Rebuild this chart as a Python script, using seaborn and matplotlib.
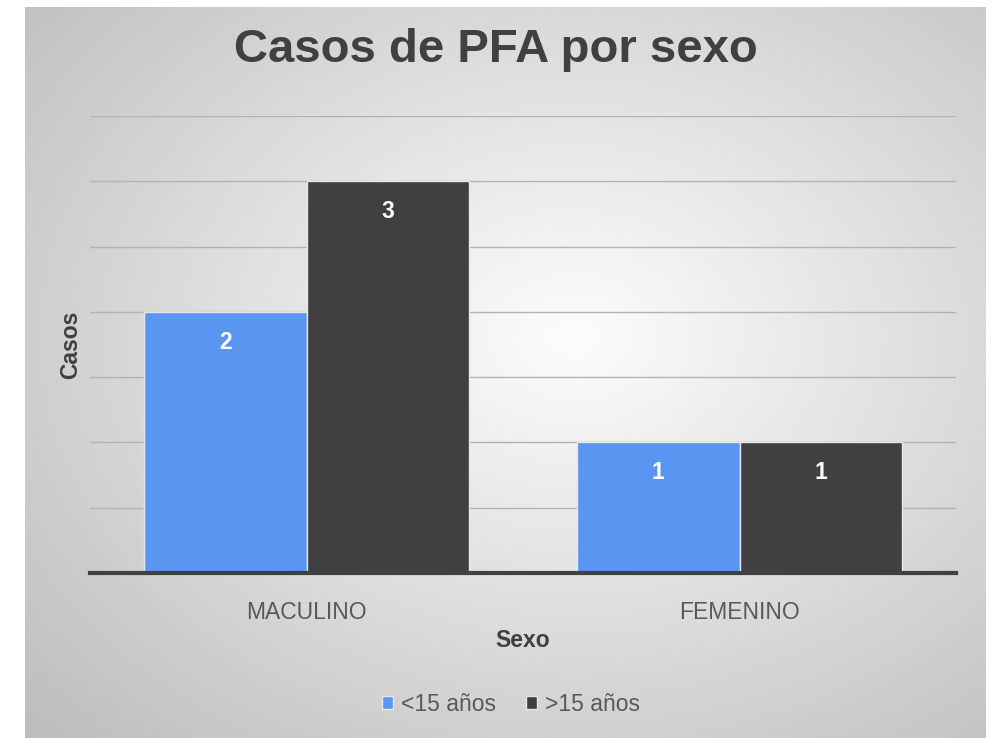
"""
Casos de PFA por sexo - grouped bar chart.
"""

import numpy as np
import pandas as pd
import matplotlib
matplotlib.use("Agg")
import matplotlib.pyplot as plt
import seaborn as sns

# ---- data ----
sexo = ["MACULINO", "FEMENINO"]
grupos = ["<15 años", ">15 años"]
casos_menores = [2, 1]
casos_mayores = [3, 1]

df = pd.DataFrame({
    "Sexo": sexo * 2,
    "Edad": [grupos[0]] * len(sexo) + [grupos[1]] * len(sexo),
    "Casos": casos_menores + casos_mayores,
})

sns.set_theme(style="white")
plt.rcParams["font.family"] = ["Liberation Sans", "DejaVu Sans"]

TEXT = "#404040"
colors = {"<15 años": "#5b95f2", ">15 años": "#404040"}

fig = plt.figure(figsize=(9.92, 7.38), dpi=100)
fig.patch.set_facecolor("white")

# radial gradient background panel
bg = fig.add_axes([25 / 992, 0, (986 - 25) / 992, 1 - 7 / 738], zorder=0)
h, w = 400, 540
yy, xx = np.mgrid[0:h, 0:w]
cx, cy = 0.57 * w, 0.45 * h
r = np.sqrt(((xx - cx) / w) ** 2 + ((yy - cy) / h) ** 2) / 0.72
shade = np.clip(0.99 - 0.23 * r, 0, 1)
bg.imshow(shade, cmap="gray", vmin=0, vmax=1, aspect="auto", interpolation="bicubic")
bg.set_axis_off()

ax = fig.add_axes([90 / 992, 1 - 573 / 738, (956 - 90) / 992, (573 - 116) / 738], zorder=1)
ax.set_facecolor("none")

sns.barplot(data=df, x="Sexo", y="Casos", hue="Edad", hue_order=grupos,
            palette=colors, saturation=1, width=0.75, edgecolor="#e8e8e8",
            linewidth=1, ax=ax, zorder=3)

ax.set_ylim(0, 3.5)
ax.set_yticks(np.arange(0, 3.51, 0.5))
ax.set_yticklabels([])
ax.tick_params(axis="both", length=0)
ax.tick_params(axis="x", pad=20, labelsize=16.5, labelcolor="#595959")
ax.yaxis.grid(True, color="#b3b3b3", linewidth=1, zorder=0)
ax.set_axisbelow(True)
for side in ["top", "right", "left"]:
    ax.spines[side].set_visible(False)
ax.spines["bottom"].set_color(TEXT)
ax.spines["bottom"].set_linewidth(3)
ax.spines["bottom"].set_zorder(4)

ax.set_xlabel("Sexo", fontsize=16.5, fontweight="bold", color=TEXT, labelpad=4)
ax.set_ylabel("Casos", fontsize=16.5, fontweight="bold", color=TEXT, labelpad=2)

for container in ax.containers:
    ax.bar_label(container, fmt="%d", padding=-30, color="white",
                 fontsize=16.5, fontweight="bold")

fig.suptitle("Casos de PFA por sexo", fontsize=34, fontweight="bold",
             color=TEXT, y=1 - 50 / 738, va="center")

sns.move_legend(ax, "center", bbox_to_anchor=(0.486, -0.287), ncol=2,
                frameon=False, title=None, fontsize=16.5,
                handlelength=0.5, handleheight=0.5, handletextpad=0.35,
                columnspacing=1.3)
for t in ax.get_legend().get_texts():
    t.set_color("#595959")

fig.savefig("out.png", dpi=100)
